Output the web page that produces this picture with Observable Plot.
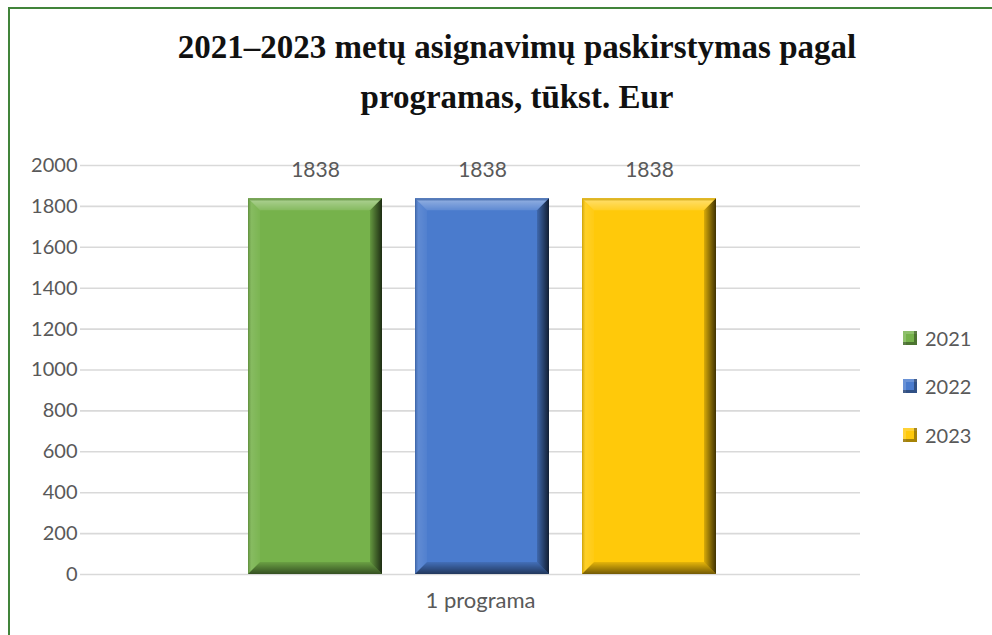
<!DOCTYPE html>
<html>
<head>
<meta charset="utf-8">
<script src="https://cdn.jsdelivr.net/npm/d3@7"></script>
<script src="https://cdn.jsdelivr.net/npm/@observablehq/plot@0.6"></script>
<style>
  html, body { margin: 0; padding: 0; background: #fff; overflow: hidden; width: 992px; height: 635px; }
  #page { position: relative; width: 992px; height: 635px; overflow: hidden; }
  #frame { position: absolute; left: 8px; top: 7px; width: 1100px; height: 700px; border: 2px solid #41843a; }
  #title { position: absolute; left: 0; top: 22px; width: 1034px; text-align: center;
           font-family: "Liberation Serif", "DejaVu Serif", serif; font-weight: bold; font-size: 33px;
           line-height: 50px; color: #111; }
  #chart { position: absolute; left: 0; top: 130px; }
  #legend { position: absolute; left: 903px; top: 0; font-family: Lato, "Open Sans", sans-serif; font-size: 20px; color: #595959; }
  .item { position: absolute; left: 0; height: 20px; display: flex; align-items: center; white-space: nowrap; }
  .sw { width: 14px; height: 14px; margin-right: 8px; box-sizing: border-box;
        box-shadow: inset -3px -3px 0 rgba(0,0,0,0.35), inset 3px 3px 0 rgba(255,255,255,0.18); }
</style>
</head>
<body>
<div id="page">
  <div id="frame"></div>
  <div id="title">2021–2023 metų asignavimų paskirstymas pagal<br>programas, tūkst. Eur</div>
  <div id="chart"></div>
  <div id="legend"></div>
</div>
<script>
// ---- data ----
const categories = ["1 programa"];
const years = ["2021", "2022", "2023"];
const values = [1838, 1838, 1838];
const yTicks = [0, 200, 400, 600, 800, 1000, 1200, 1400, 1600, 1800, 2000];
const seriesColors = ["#76b24b", "#4a7bcd", "#ffc90a"];

const data = years.map((y, i) => ({ category: categories[0], year: y, value: values[i] }));

const plot = Plot.plot({
  width: 992,
  height: 505,
  marginLeft: 80,
  marginRight: 132,
  marginTop: 35,
  marginBottom: 61,
  style: { fontFamily: "Lato, 'Open Sans', sans-serif", fontSize: "19px", color: "#595959", background: "transparent" },
  x: { type: "band", domain: years, range: [230.25, 732.75], paddingInner: 0.2, paddingOuter: 0.1, axis: null },
  y: { domain: [0, 2000], axis: null },
  color: { domain: years, range: seriesColors },
  marks: [
    Plot.ruleY(yTicks, { stroke: "#d9d9d9", strokeWidth: 1.6 }),
    Plot.axisY(yTicks, { tickSize: 0, tickPadding: 3, label: null, tickFormat: d => String(d), fill: "#595959", fontSize: 20 }),
    Plot.barY(data, { x: "year", y: "value", fill: "year" }),
    Plot.text(data, { x: "year", y: "value", text: d => String(d.value), dy: -28, fill: "#595959", fontSize: 21 }),
    Plot.text(categories, { text: d => d, frameAnchor: "bottom", dy: 33, dx: 10, fill: "#595959", fontSize: 22 })
  ]
});
document.getElementById("chart").appendChild(plot);

// ---- bevel decoration derived from the rendered bars ----
const svg = d3.select(plot);
const defs = svg.insert("defs", ":first-child");
function grad(id, x2, y2, stops) {
  const g = defs.append("linearGradient").attr("id", id).attr("x1", 0).attr("y1", 0).attr("x2", x2).attr("y2", y2);
  stops.forEach(([o, c, a]) => g.append("stop").attr("offset", o).attr("stop-color", c).attr("stop-opacity", a));
}
grad("bevT", 0, 1, [[0, "#000", 0.15], [0.25, "#fff", 0.35], [1, "#fff", 0.12]]);
grad("bevL", 1, 0, [[0, "#000", 0.2], [0.3, "#fff", 0.12], [1, "#fff", 0.04]]);
grad("bevR", 1, 0, [[0, "#000", 0.15], [1, "#000", 0.75]]);
grad("bevB", 0, 1, [[0, "#000", 0.1], [1, "#000", 0.55]]);

const b = 12;
svg.selectAll("g[aria-label='bar'] rect").each(function () {
  const r = d3.select(this);
  const x = +r.attr("x"), y = +r.attr("y"), w = +r.attr("width"), h = +r.attr("height");
  const g = d3.select(this.parentNode);
  const poly = (pts, fill) => g.append("polygon").attr("points", pts.map(p => p.join(",")).join(" ")).attr("fill", fill);
  poly([[x, y], [x + w, y], [x + w - b, y + b], [x + b, y + b]], "url(#bevT)");
  poly([[x, y], [x + b, y + b], [x + b, y + h - b], [x, y + h]], "url(#bevL)");
  poly([[x + w, y], [x + w, y + h], [x + w - b, y + h - b], [x + w - b, y + b]], "url(#bevR)");
  poly([[x, y + h], [x + b, y + h - b], [x + w - b, y + h - b], [x + w, y + h]], "url(#bevB)");
});

// ---- legend ----
const legend = document.getElementById("legend");
const legendY = [338, 386, 435];
years.forEach((yr, i) => {
  const item = document.createElement("div");
  item.className = "item";
  item.style.top = (legendY[i] - 10) + "px";
  const sw = document.createElement("div");
  sw.className = "sw";
  sw.style.background = seriesColors[i];
  item.appendChild(sw);
  item.appendChild(document.createTextNode(yr));
  legend.appendChild(item);
});
</script>
</body>
</html>
